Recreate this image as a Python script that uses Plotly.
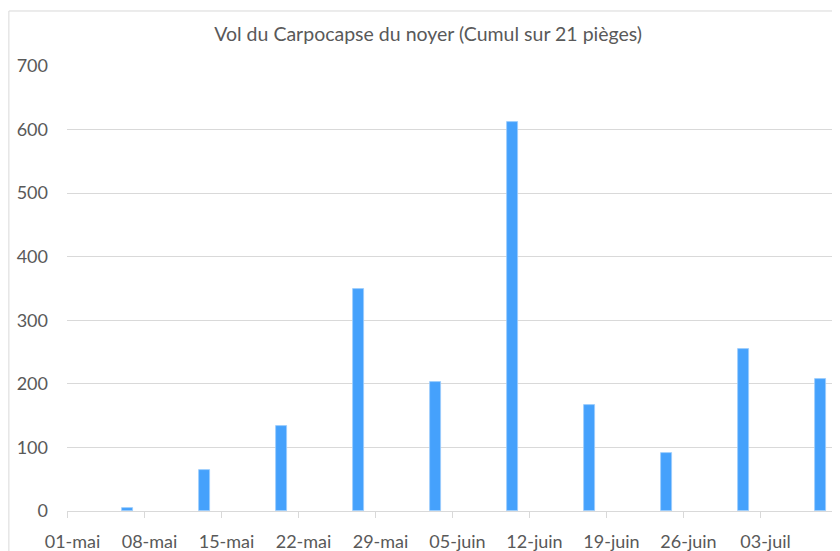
import plotly.graph_objects as go

dates = ["2023-05-06", "2023-05-13", "2023-05-20", "2023-05-27", "2023-06-03",
         "2023-06-10", "2023-06-17", "2023-06-24", "2023-07-01", "2023-07-08"]
captures = [4, 65, 134, 349, 203, 612, 167, 92, 255, 208]

tick_dates = ["2023-05-01", "2023-05-08", "2023-05-15", "2023-05-22", "2023-05-29",
              "2023-06-05", "2023-06-12", "2023-06-19", "2023-06-26", "2023-07-03"]
tick_labels = ["01-mai", "08-mai", "15-mai", "22-mai", "29-mai",
               "05-juin", "12-juin", "19-juin", "26-juin", "03-juil"]

title = "Vol du Carpocapse du noyer (Cumul sur 21 pièges)"

DAY = 86400000
TXT = "#595959"
GRID = "#d9d9d9"
FONT = "Lato"

fig = go.Figure(go.Bar(
    x=dates, y=captures,
    width=[DAY * 0.98] * len(dates),
    marker=dict(color="#45a1fc", line=dict(color="#9ccdfb", width=0.8)),
))

fig.update_layout(
    width=832, height=543,
    margin=dict(l=59, r=3, t=58, b=40, autoexpand=False),
    paper_bgcolor="white", plot_bgcolor="white",
    showlegend=False,
    font=dict(family=FONT, color=TXT, size=18),
    title=dict(text=title, x=0.505, xanchor="center", y=0.952, yanchor="middle",
               font=dict(family=FONT, size=19.5, color=TXT)),
    bargap=0,
    shapes=[
        dict(type="line", xref="paper", yref="paper", x0=-0.0755, x1=-0.0755, y0=-0.2, y1=1.1236,
             line=dict(color=GRID, width=1)),
        dict(type="line", xref="paper", yref="paper", x0=-0.0755, x1=1.1, y0=1.1236, y1=1.1236,
             line=dict(color=GRID, width=1)),
    ],
)

fig.update_xaxes(
    type="date",
    range=["2023-04-30 12:00", "2023-07-09 12:00"],
    tickmode="array", tickvals=tick_dates, ticktext=tick_labels,
    ticks="", showgrid=False, zeroline=False,
    showline=True, linecolor=GRID, linewidth=1,
    ticklabelstandoff=14,
    tickfont=dict(family=FONT, size=18, color=TXT),
    minor=dict(ticks="outside", tick0="2023-04-30 12:00", dtick=7 * DAY,
               ticklen=6, tickcolor=GRID, tickwidth=1, showgrid=False),
)

fig.update_yaxes(
    range=[0, 700], dtick=100, tick0=0,
    showgrid=True, gridcolor=GRID, gridwidth=1,
    zeroline=False, showline=False, ticks="",
    ticklabelstandoff=18,
    tickfont=dict(family=FONT, size=18, color=TXT),
)

fig.write_html("out.html")
